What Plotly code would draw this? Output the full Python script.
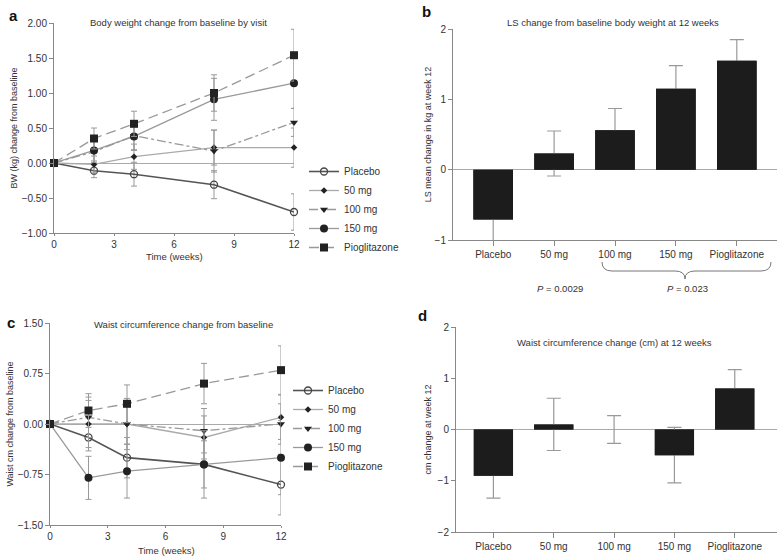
import plotly.graph_objects as go

W, H = 777, 556
def px(x): return x / W
def py(y): return 1 - y / H

weeks = [0, 2, 4, 8, 12]
groups = ["Placebo", "50 mg", "100 mg", "150 mg", "Pioglitazone"]

# Panel a: body weight change (kg)
bw_placebo = [0, -0.11, -0.16, -0.31, -0.70]
bw_placebo_err = [0, 0.10, 0.17, 0.20, 0.26]
bw_50 = [0, -0.02, 0.09, 0.22, 0.22]
bw_50_err = [0, 0.12, 0.18, 0.25, 0.28]
bw_100 = [0, 0.16, 0.39, 0.17, 0.58]
bw_100_err = [0, 0.15, 0.20, 0.30, 0.20]
bw_150 = [0, 0.18, 0.38, 0.91, 1.14]
bw_150_err = [0, 0.15, 0.20, 0.30, 0.36]
bw_pio = [0, 0.35, 0.56, 1.00, 1.54]
bw_pio_err = [0, 0.15, 0.18, 0.26, 0.37]

# Panel b: LS mean change at week 12
ls_mean = [-0.71, 0.23, 0.56, 1.15, 1.55]
ls_err = [0.30, 0.32, 0.31, 0.33, 0.30]

# Panel c: waist circumference change (cm)
wc_placebo = [0, -0.2, -0.5, -0.6, -0.9]
wc_placebo_err = [0, 0.20, 0.30, 0.35, 0.45]
wc_50 = [0, 0.0, 0.0, -0.2, 0.1]
wc_50_err = [0, 0.35, 0.38, 0.32, 0.33]
wc_100 = [0, 0.1, 0.0, -0.1, 0.0]
wc_100_err = [0, 0.30, 0.30, 0.33, 0.30]
wc_150 = [0, -0.8, -0.7, -0.6, -0.5]
wc_150_err = [0, 0.32, 0.40, 0.50, 0.55]
wc_pio = [0, 0.2, 0.3, 0.6, 0.8]
wc_pio_err = [0, 0.25, 0.28, 0.30, 0.36]

# Panel d: waist change at week 12
wc12_mean = [-0.9, 0.1, 0.0, -0.5, 0.8]
wc12_err = [0.44, 0.51, 0.27, 0.54, 0.37]

FONT = "Liberation Sans, Arial, sans-serif"
TXT = "#333"
AX = "#888"
ERR = "#999"

styles = [
    dict(line=dict(color="#555", width=1.6), marker=dict(symbol="circle-open", size=7, color="#444", line=dict(width=1.3))),
    dict(line=dict(color="#aaa", width=1.3), marker=dict(symbol="diamond", size=5, color="#222")),
    dict(line=dict(color="#999", width=1.3, dash="dashdot"), marker=dict(symbol="triangle-down", size=7, color="#222")),
    dict(line=dict(color="#999", width=1.3), marker=dict(symbol="circle", size=8, color="#222")),
    dict(line=dict(color="#999", width=1.3, dash="10px,5px"), marker=dict(symbol="square", size=8, color="#222")),
]

fig = go.Figure()

a_series = [(bw_placebo, bw_placebo_err), (bw_50, bw_50_err), (bw_100, bw_100_err), (bw_150, bw_150_err), (bw_pio, bw_pio_err)]
c_series = [(wc_placebo, wc_placebo_err), (wc_50, wc_50_err), (wc_100, wc_100_err), (wc_150, wc_150_err), (wc_pio, wc_pio_err)]

for i, (vals, err) in enumerate(a_series):
    fig.add_trace(go.Scatter(
        x=weeks, y=vals, name=groups[i], mode="lines+markers",
        error_y=dict(type="data", array=err, color=ERR, thickness=1, width=3),
        xaxis="x", yaxis="y", legend="legend", cliponaxis=False, **styles[i]))

for i, (vals, err) in enumerate(c_series):
    fig.add_trace(go.Scatter(
        x=weeks, y=vals, name=groups[i], mode="lines+markers",
        error_y=dict(type="data", array=err, color=ERR, thickness=1, width=3),
        xaxis="x3", yaxis="y3", legend="legend2", cliponaxis=False, **styles[i]))

BAR = "#1c1c1c"
for means, errs, xa, ya in [(ls_mean, ls_err, "x2", "y2"), (wc12_mean, wc12_err, "x4", "y4")]:
    # bars carrying the error whiskers, then identical bars on top hide the inner part
    fig.add_trace(go.Bar(
        x=groups, y=means, width=0.65, marker=dict(color=BAR, line=dict(width=0)),
        error_y=dict(type="data", array=errs, color=ERR, thickness=1.2, width=7),
        xaxis=xa, yaxis=ya, showlegend=False, cliponaxis=False))
    fig.add_trace(go.Bar(
        x=groups, y=means, width=0.65, marker=dict(color=BAR, line=dict(width=0)),
        xaxis=xa, yaxis=ya, showlegend=False, cliponaxis=False))

tickfont = dict(family=FONT, size=10, color=TXT)
titlefont = dict(family=FONT, size=9, color=TXT)

def yax(dom, rng, dtick, fmt, title, anchor, standoff):
    return dict(domain=dom, range=rng, dtick=dtick, tick0=rng[0], tickformat=fmt,
                showline=True, linecolor=AX, linewidth=1, ticks="outside", ticklen=4,
                tickcolor=AX, showgrid=False, zeroline=True, zerolinecolor="#aaa",
                zerolinewidth=1.2, tickfont=tickfont, anchor=anchor, automargin=False,
                title=dict(text=title, font=titlefont, standoff=standoff))

def xax_num(dom, anchor):
    return dict(domain=dom, range=[0, 12], dtick=3, tick0=0, showline=True, linecolor=AX,
                linewidth=1, ticks="outside", ticklen=2, tickcolor=AX, showgrid=False,
                zeroline=False, tickfont=tickfont, anchor=anchor, automargin=False)

def xax_cat(dom, rng, anchor):
    return dict(domain=dom, range=rng, type="category", showline=True, linecolor=AX,
                linewidth=1, ticks="outside", ticklen=5, tickcolor=AX, showgrid=False,
                zeroline=False, tickfont=tickfont, anchor=anchor, automargin=False)

legfont = dict(family=FONT, size=10, color=TXT)
fig.update_layout(
    width=W, height=H, margin=dict(l=0, r=0, t=0, b=0, pad=0, autoexpand=False),
    paper_bgcolor="white", plot_bgcolor="white",
    font=dict(family=FONT, size=10, color=TXT),
    barmode="overlay",
    xaxis=xax_num([px(54), px(294)], "y"),
    yaxis=yax([py(233), py(23)], [-1, 2], 0.5, ".2f", "BW (kg) change from baseline", "x", 2),
    xaxis2=xax_cat([px(453), px(777)], [-0.66, 4.66], "y2"),
    yaxis2=yax([py(240), py(29)], [-1, 2], 1, "d", "LS mean change in kg at week 12", "x2", 1),
    xaxis3=xax_num([px(50), px(281)], "y3"),
    yaxis3=yax([py(525), py(323)], [-1.5, 1.5], 0.75, ".2f", "Waist cm change from baseline", "x3", 2),
    xaxis4=xax_cat([px(456), px(777)], [-0.62, 4.7], "y4"),
    yaxis4=yax([py(532), py(327)], [-2, 2], 1, "d", "cm change at week 12", "x4", 4),
    legend=dict(x=px(304), y=py(157), xanchor="left", yanchor="top", font=legfont,
                bgcolor="rgba(0,0,0,0)", tracegroupgap=0, itemwidth=30),
    legend2=dict(x=px(288), y=py(376), xanchor="left", yanchor="top", font=legfont,
                 bgcolor="rgba(0,0,0,0)", tracegroupgap=0, itemwidth=30),
)

annots = [
    dict(text="<b>a</b>", x=px(7), y=py(15), size=15),
    dict(text="<b>b</b>", x=px(420), y=py(12), size=15),
    dict(text="<b>c</b>", x=px(5), y=py(322), size=15),
    dict(text="<b>d</b>", x=px(416), y=py(315), size=15),
]
for a in annots:
    fig.add_annotation(text=a["text"], x=a["x"], y=a["y"], xref="paper", yref="paper",
                       xanchor="left", yanchor="middle", showarrow=False,
                       font=dict(family=FONT, size=a["size"], color="#111"))

titles = [
    ("Body weight change from baseline by visit", 178, 23),
    ("LS change from baseline body weight at 12 weeks", 613, 23),
    ("Waist circumference change from baseline", 183, 324),
    ("Waist circumference change (cm) at 12 weeks", 614, 342),
    ("Time (weeks)", 174, 256),
    ("Time (weeks)", 166, 550),
]
for t, x, y in titles:
    fig.add_annotation(text=t, x=px(x), y=py(y), xref="paper", yref="paper",
                       xanchor="center", yanchor="middle", showarrow=False,
                       font=dict(family=FONT, size=9.5, color=TXT))

for t, x, y in [("<i>P</i> = 0.0029", 560, 288), ("<i>P</i> = 0.023", 687, 288)]:
    fig.add_annotation(text=t, x=px(x), y=py(y), xref="paper", yref="paper",
                       xanchor="center", yanchor="middle", showarrow=False,
                       font=dict(family=FONT, size=9.5, color=TXT))

# curly bracket under 100 mg .. Pioglitazone
x0, x1, ytop, ymid, ytip = 602, 771, 262, 271, 279
xm = 685
path = (f"M {px(x0)} {py(ytop)} Q {px(x0)} {py(ymid)} {px(x0+10)} {py(ymid)} "
        f"L {px(xm-10)} {py(ymid)} Q {px(xm)} {py(ymid)} {px(xm)} {py(ytip)} "
        f"Q {px(xm)} {py(ymid)} {px(xm+10)} {py(ymid)} "
        f"L {px(x1-10)} {py(ymid)} Q {px(x1)} {py(ymid)} {px(x1)} {py(ytop)}")
fig.add_shape(type="path", path=path, xref="paper", yref="paper",
              line=dict(color="#777", width=1))

fig.write_html("out.html", config={"displayModeBar": False},
               post_script="document.body.style.margin='0';document.body.style.overflow='hidden';")
